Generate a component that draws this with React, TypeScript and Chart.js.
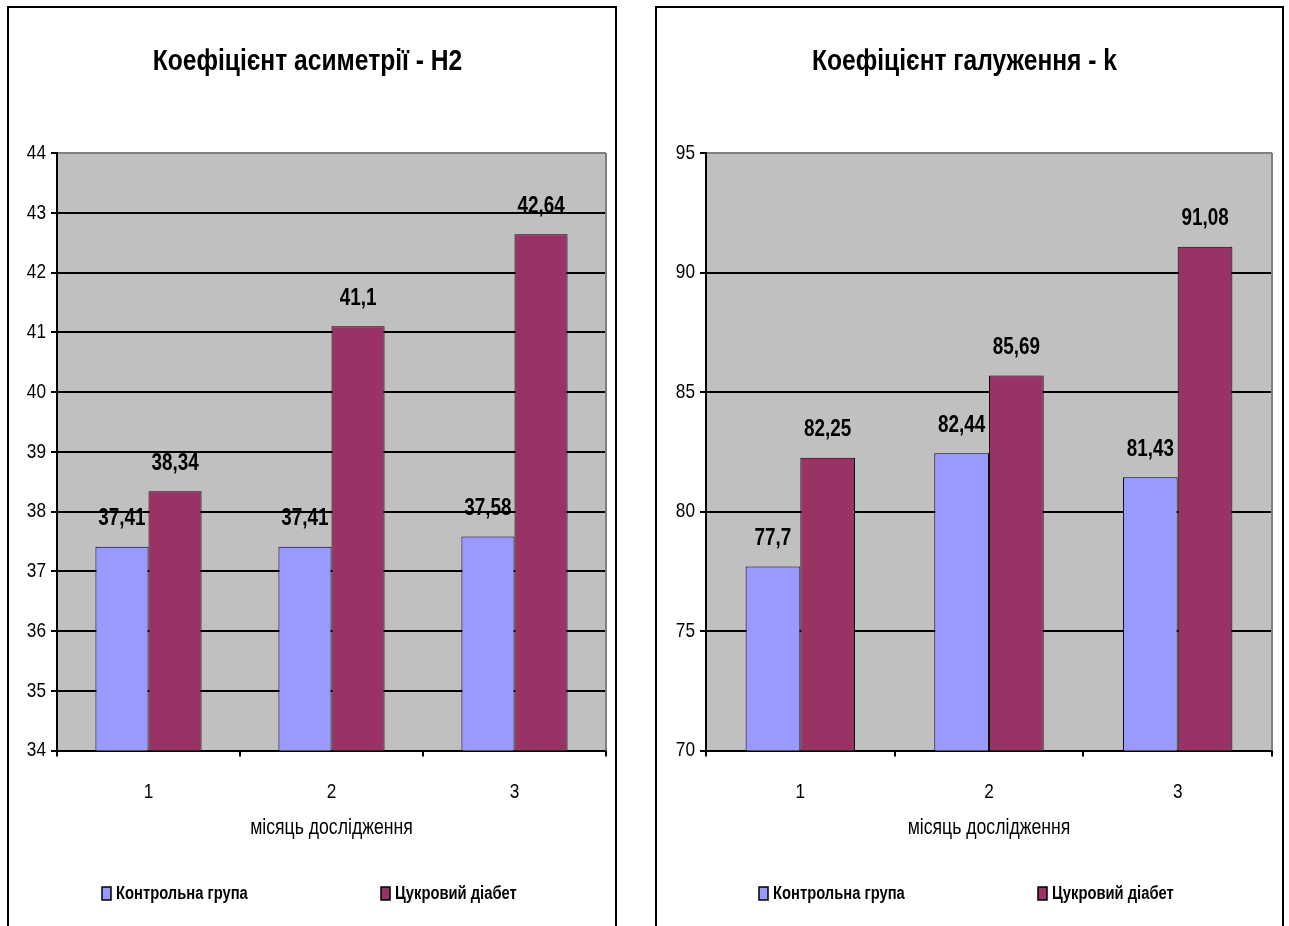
import React, { useEffect, useRef } from 'react';
import { Chart, registerables } from 'chart.js';

Chart.register(...registerables);

// ---- data ----
const categories = ['1', '2', '3'];
const seriesNames = ['Контрольна група', 'Цукровий діабет'];
const asymmetryControl = [37.41, 37.41, 37.58];
const asymmetryDiabetes = [38.34, 41.1, 42.64];
const branchingControl = [77.7, 82.44, 81.43];
const branchingDiabetes = [82.25, 85.69, 91.08];
const asymmetryTitle = 'Коефіцієнт асиметрії - H2';
const branchingTitle = 'Коефіцієнт галуження - k';
const xAxisTitle = 'місяць дослідження';
const asymmetryTicks = { min: 34, max: 44, step: 1 };
const branchingTicks = { min: 70, max: 95, step: 5 };

// ---- style ----
const FONT = "'Liberation Sans', Arial, sans-serif";
const COLORS = ['#9999FF', '#993366'];
const CONDENSE = 0.82; // narrow (Arial Narrow-like) text rendering

function condenseText(ctx: any) {
  const fill = ctx.fillText;
  const measure = ctx.measureText;
  ctx.fillText = function (text: string, x: number, y: number, maxWidth?: number) {
    this.save();
    this.translate(x, y);
    this.scale(CONDENSE, 1);
    if (maxWidth === undefined || maxWidth === null) fill.call(this, text, 0, 0);
    else fill.call(this, text, 0, 0, maxWidth / CONDENSE);
    this.restore();
  };
  ctx.measureText = function (text: string) {
    const m = measure.call(this, text);
    return {
      width: m.width * CONDENSE,
      actualBoundingBoxAscent: m.actualBoundingBoxAscent,
      actualBoundingBoxDescent: m.actualBoundingBoxDescent,
      actualBoundingBoxLeft: m.actualBoundingBoxLeft * CONDENSE,
      actualBoundingBoxRight: m.actualBoundingBoxRight * CONDENSE,
      fontBoundingBoxAscent: m.fontBoundingBoxAscent,
      fontBoundingBoxDescent: m.fontBoundingBoxDescent,
    };
  };
}

const plotBackground = {
  id: 'plotBackground',
  beforeDraw(chart: any) {
    const { ctx, chartArea: a } = chart;
    ctx.save();
    ctx.fillStyle = '#C0C0C0';
    ctx.fillRect(a.left, a.top, a.right - a.left, a.bottom - a.top);
    ctx.restore();
  },
  beforeDatasetsDraw(chart: any) {
    const { ctx, chartArea: a } = chart;
    ctx.save();
    ctx.strokeStyle = '#808080';
    ctx.lineWidth = 2;
    ctx.beginPath();
    ctx.moveTo(a.right, a.top);
    ctx.lineTo(a.right, a.bottom);
    ctx.stroke();
    ctx.restore();
  },
};

const valueLabels = {
  id: 'valueLabels',
  afterDatasetsDraw(chart: any) {
    const { ctx } = chart;
    ctx.save();
    ctx.font = `bold 23px ${FONT}`;
    ctx.fillStyle = '#000';
    ctx.textAlign = 'center';
    ctx.textBaseline = 'middle';
    chart.data.datasets.forEach((ds: any, di: number) => {
      const meta = chart.getDatasetMeta(di);
      meta.data.forEach((el: any, i: number) => {
        const txt = String(ds.data[i]).replace('.', ',');
        ctx.fillText(txt, el.x, el.y - 28);
      });
    });
    ctx.restore();
  },
};

const bottomLegend = {
  id: 'bottomLegend',
  afterDraw(chart: any) {
    const { ctx, chartArea: a } = chart;
    const cy = a.bottom + 143;
    const cx = chart.width / 2;
    ctx.save();
    ctx.font = `bold 18px ${FONT}`;
    ctx.textBaseline = 'middle';
    ctx.textAlign = 'left';
    chart.data.datasets.forEach((ds: any, i: number) => {
      const tw = ctx.measureText(ds.label).width;
      const w = 10 + 5 + tw;
      const center = cx + (i === 0 ? -137 : 137);
      const x0 = Math.round(center - w / 2);
      ctx.fillStyle = ds.backgroundColor;
      ctx.fillRect(x0, cy - 6.5, 9, 13);
      ctx.strokeStyle = '#000';
      ctx.lineWidth = 1.5;
      ctx.strokeRect(x0, cy - 6.5, 9, 13);
      ctx.fillStyle = '#000';
      ctx.fillText(ds.label, x0 + 14, cy + 1);
    });
    ctx.restore();
  },
};

type PanelProps = {
  left: number;
  width: number;
  title: string;
  control: number[];
  diabetes: number[];
  ticks: { min: number; max: number; step: number };
  yAxisWidth: number;
  padRight: number;
};

function BarPanel({ left, width, title, control, diabetes, ticks, yAxisWidth, padRight }: PanelProps) {
  const ref = useRef<HTMLCanvasElement>(null);
  const canvasW = width - 4;
  const canvasH = 918;

  useEffect(() => {
    const canvas = ref.current as HTMLCanvasElement;
    condenseText(canvas.getContext('2d'));
    const chart = new Chart(canvas, {
      type: 'bar',
      data: {
        labels: categories,
        datasets: [
          { label: seriesNames[0], data: control, backgroundColor: COLORS[0], borderColor: '#000', borderWidth: 1 },
          { label: seriesNames[1], data: diabetes, backgroundColor: COLORS[1], borderColor: '#000', borderWidth: 1 },
        ],
      },
      options: {
        responsive: false,
        animation: false,
        layout: { padding: { left: 0, right: padRight, top: 0, bottom: 87.5 } },
        datasets: { bar: { categoryPercentage: 0.58, barPercentage: 1 } } as any,
        plugins: {
          legend: { display: false },
          tooltip: { enabled: false },
          title: {
            display: true,
            text: title,
            color: '#000',
            font: { family: FONT, size: 30, weight: 'bold', lineHeight: 1.2 },
            padding: { top: 36, bottom: 73 },
          },
        },
        scales: {
          x: {
            grid: {
              display: true,
              drawOnChartArea: false,
              drawTicks: true,
              tickLength: 6,
              color: '#000',
              lineWidth: 2,
              offset: true,
            },
            border: { display: true, color: '#000', width: 2 },
            ticks: { color: '#000', padding: 25, font: { family: FONT, size: 21, lineHeight: 1 } },
            title: {
              display: true,
              text: xAxisTitle,
              color: '#000',
              font: { family: FONT, size: 21.5, lineHeight: 1 },
              padding: { top: -10.5, bottom: 0 },
            },
          },
          y: {
            min: ticks.min,
            max: ticks.max,
            afterFit: (scale: any) => {
              scale.width = yAxisWidth;
            },
            grid: {
              color: (c: any) => (c.tick && c.tick.value === ticks.max ? '#808080' : '#000'),
              tickColor: '#000',
              lineWidth: 2,
              tickLength: 6,
              drawTicks: true,
            },
            border: { display: true, color: '#000', width: 2 },
            ticks: {
              stepSize: ticks.step,
              color: '#000',
              padding: 5,
              font: { family: FONT, size: 21 },
            },
          },
        },
      },
      plugins: [plotBackground, valueLabels, bottomLegend],
    } as any);
    return () => chart.destroy();
  }, []);

  return (
    <div
      style={{
        position: 'absolute',
        left,
        top: 6,
        width,
        height: 940,
        border: '2px solid #000',
        boxSizing: 'border-box',
        background: '#fff',
      }}
    >
      <canvas ref={ref} width={canvasW} height={canvasH} style={{ display: 'block', width: canvasW, height: canvasH }} />
    </div>
  );
}

export default function App() {
  return (
    <div style={{ position: 'fixed', left: 0, top: 0, width: 1289, height: 926, background: '#fff', overflow: 'hidden' }}>
      <BarPanel
        left={7}
        width={610}
        title={asymmetryTitle}
        control={asymmetryControl}
        diabetes={asymmetryDiabetes}
        ticks={asymmetryTicks}
        yAxisWidth={48}
        padRight={9}
      />
      <BarPanel
        left={655}
        width={629}
        title={branchingTitle}
        control={branchingControl}
        diabetes={branchingDiabetes}
        ticks={branchingTicks}
        yAxisWidth={49}
        padRight={10}
      />
    </div>
  );
}
